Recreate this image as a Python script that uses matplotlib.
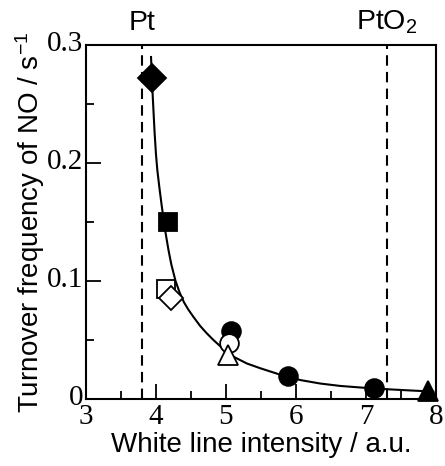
import matplotlib
matplotlib.use("Agg")
import matplotlib.pyplot as plt
from matplotlib.ticker import MultipleLocator
from matplotlib.transforms import ScaledTranslation

# Reference positions (dashed lines)
PT_X = 3.8
PTO2_X = 7.3

# Measured points
PT_XS = [3.95, 4.17, 4.14, 4.21, 5.07, 5.05, 5.03, 5.89, 7.12, 7.89]
PT_YS = [0.272, 0.150, 0.093, 0.086, 0.058, 0.047, 0.037, 0.019, 0.0096, 0.007]
PT_MARKERS = ["D", "s", "s", "D", "o", "o", "^", "o", "o", "^"]
PT_FILLED = [True, True, False, False, True, False, False, True, True, True]
PT_SIZES = [14, 13.5, 13.5, 12, 13.5, 13.5, 15, 13.5, 13.5, 15]

# Fit curve
CURVE_X = [3.93, 3.955, 3.98, 4.00, 4.02, 4.05, 4.08, 4.11, 4.14, 4.18,
           4.22, 4.28, 4.34, 4.40, 4.46, 4.53, 4.63, 4.72, 4.82, 4.95,
           5.10, 5.30, 5.49, 5.75, 6.06, 6.35, 6.63, 7.00, 7.30, 7.65, 7.96]
CURVE_Y = [0.290, 0.256, 0.227, 0.208, 0.194, 0.179, 0.165, 0.152, 0.140, 0.126,
           0.114, 0.100, 0.090, 0.082, 0.076, 0.070, 0.062, 0.056, 0.050, 0.043,
           0.036, 0.030, 0.026, 0.021, 0.016, 0.013, 0.011, 0.0093, 0.0082, 0.0071, 0.0062]

plt.rcParams["mathtext.fontset"] = "custom"
plt.rcParams["mathtext.rm"] = "Liberation Sans"
plt.rcParams["mathtext.default"] = "regular"

fig = plt.figure(figsize=(4.45, 4.66), dpi=100)
ax = fig.add_axes([0.193, 0.144, 0.787, 0.759])

ax.plot(CURVE_X, CURVE_Y, color="black", lw=1.5, zorder=2, solid_joinstyle="round")
ax.axvline(PT_X, color="black", lw=1.5, ls=(0, (5, 3)), zorder=1)
ax.axvline(PTO2_X, color="black", lw=1.5, ls=(0, (5, 3)), zorder=1)

for x, y, m, f, s in zip(PT_XS, PT_YS, PT_MARKERS, PT_FILLED, PT_SIZES):
    ax.plot([x], [y], marker=m, ms=s, mec="black", mew=1.3,
            mfc="black" if f else "white", ls="none", zorder=3, clip_on=False)

ax.set_xlim(3, 8)
ax.set_ylim(0, 0.3)
ax.xaxis.set_minor_locator(MultipleLocator(0.5))
ax.yaxis.set_minor_locator(MultipleLocator(0.05))
ax.set_yticks([0, 0.1, 0.2, 0.3])
ax.set_yticklabels(["0", "0.1", "0.2", "0.3"])
ax.set_xticks([3, 4, 5, 6, 7, 8])
ax.set_xticklabels(["3", "4", "5", "6", "7", "8"])

ax.tick_params(which="major", direction="in", length=11, width=1.3)
ax.tick_params(axis="x", which="major", pad=4)
ax.tick_params(axis="y", which="major", pad=2)
ax.tick_params(which="minor", direction="in", length=6, width=1.3)
ax.tick_params(top=False, right=False)
for sp in ax.spines.values():
    sp.set_linewidth(1.5)

for lab in ax.get_xticklabels() + ax.get_yticklabels():
    lab.set_family("Liberation Serif")
    lab.set_fontsize(21)

# y tick labels sit a touch above their ticks in the original
shift = ScaledTranslation(0, 4 / 100, fig.dpi_scale_trans)
for tick in ax.yaxis.get_major_ticks():
    tick.label1.set_transform(tick.label1.get_transform() + shift)

ax.set_xlabel("White line intensity / a.u.", family="Liberation Sans", fontsize=20, labelpad=1)
ax.set_ylabel("Turnover frequency of NO / s$^{-1}$", family="Liberation Sans", fontsize=20, labelpad=0)

ax.text(PT_X, 1.025, "Pt", transform=ax.get_xaxis_transform(), ha="center", va="bottom",
        family="Liberation Sans", fontsize=20.5)
ax.text(PTO2_X, 1.025, "PtO$_2$", transform=ax.get_xaxis_transform(), ha="center", va="bottom",
        family="Liberation Sans", fontsize=20.5)

fig.savefig("out.png", dpi=100)
